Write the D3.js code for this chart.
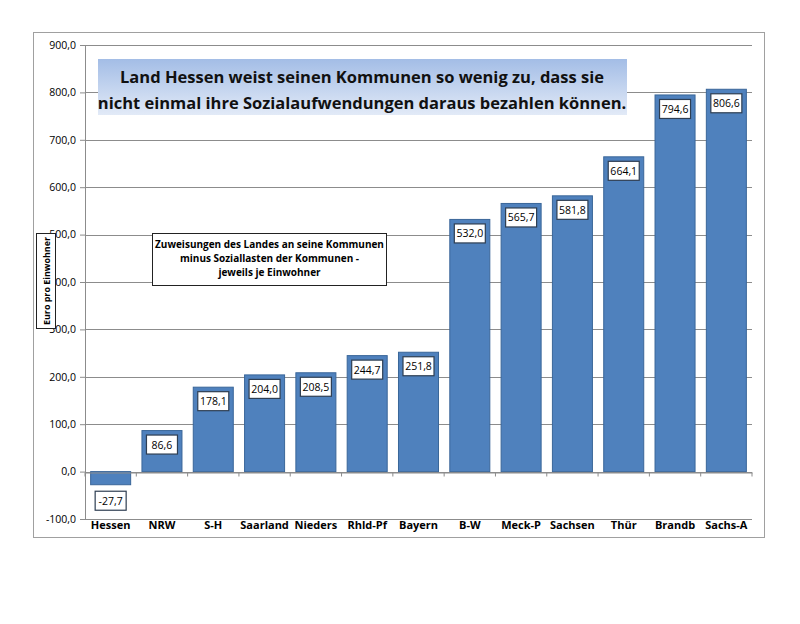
<!DOCTYPE html>
<html>
<head>
<meta charset="utf-8">
<script src="https://cdn.jsdelivr.net/npm/d3@7"></script>
<style>
  body { margin: 0; background: #fff; }
  svg text { font-family: 'Open Sans', 'Noto Sans', sans-serif; }
</style>
</head>
<body>
<svg class="chart"></svg>
<script>
var laender = ['Hessen', 'NRW', 'S-H', 'Saarland', 'Nieders', 'Rhld-Pf', 'Bayern', 'B-W', 'Meck-P', 'Sachsen', 'Thür', 'Brandb', 'Sachs-A'];
var werte = [-27.7, 86.6, 178.1, 204.0, 208.5, 244.7, 251.8, 532.0, 565.7, 581.8, 664.1, 794.6, 806.6];
var yTicks = [-100, 0, 100, 200, 300, 400, 500, 600, 700, 800, 900];
var titelZeilen = ['Land Hessen weist seinen Kommunen so wenig zu, dass sie', 'nicht einmal ihre Sozialaufwendungen daraus bezahlen können.'];
var notizZeilen = ['Zuweisungen des Landes an seine Kommunen', 'minus Soziallasten der Kommunen -', 'jeweils je Einwohner'];
var yTitel = 'Euro pro Einwohner';

var margin = { top: 45, right: 48, bottom: 105, left: 85 };
var width = 800 - margin.left - margin.right;
var height = 624 - margin.top - margin.bottom;
var fmt = d => d.toFixed(1).replace('.', ',');

var svg = d3.select('.chart').attr('width', 800).attr('height', 624);

// Rahmen um das Diagramm
svg.append('rect')
  .attr('x', 33.5).attr('y', 32.5).attr('width', 731).attr('height', 505)
  .attr('fill', '#fff').attr('stroke', '#a0a0a0');

var chart = svg.append('g')
  .attr('transform', 'translate(' + margin.left + ',' + margin.top + ')');

var x = d3.scaleBand().domain(laender).range([0, width]).paddingInner(0.22).paddingOuter(0.11);
var y = d3.scaleLinear().domain([-100, 900]).range([height, 0]);

// Gitterlinien
chart.append('g')
  .selectAll('line')
  .data(yTicks)
  .enter().append('line')
  .attr('x1', 0).attr('x2', width)
  .attr('y1', d => Math.round(y(d)) + 0.5).attr('y2', d => Math.round(y(d)) + 0.5)
  .attr('stroke', '#8c8c8c').attr('stroke-width', 1);

// Y-Achse
var yAxis = d3.axisLeft(y).tickValues(yTicks).tickFormat(fmt).tickSize(5).tickPadding(4);
var yg = chart.append('g').attr('class', 'y axis').call(yAxis);
yg.select('.domain').attr('stroke', '#8c8c8c');
yg.selectAll('.tick line').attr('stroke', '#8c8c8c');
yg.selectAll('.tick text').attr('font-size', 10.5).attr('fill', '#000');

// Balken
chart.selectAll('.bar')
  .data(werte)
  .enter().append('rect')
  .attr('class', 'bar')
  .attr('x', (d, i) => x(laender[i]))
  .attr('y', d => y(Math.max(0, d)))
  .attr('width', x.bandwidth())
  .attr('height', d => Math.abs(y(d) - y(0)))
  .attr('fill', '#4f81bd')
  .attr('stroke', '#3a6699').attr('stroke-width', 1);

// X-Achse bei 0
var xAxis = d3.axisBottom(x).tickSize(0).tickFormat('');
var xg = chart.append('g').attr('class', 'x axis')
  .attr('transform', 'translate(0,' + (Math.round(y(0)) + 0.5) + ')')
  .call(xAxis);
xg.select('.domain').attr('stroke', '#8c8c8c');
var grenzen = laender.map(d => x(d) - x.step() * x.paddingInner() / 2).concat([width]);
xg.selectAll('.sep')
  .data(grenzen)
  .enter().append('line')
  .attr('x1', d => d).attr('x2', d => d)
  .attr('y1', 0).attr('y2', 4)
  .attr('stroke', '#8c8c8c');

// Kategorienbeschriftung unten
chart.append('g')
  .selectAll('text')
  .data(laender)
  .enter().append('text')
  .attr('x', d => x(d) + x.bandwidth() / 2)
  .attr('y', height + 10)
  .attr('text-anchor', 'middle')
  .attr('font-size', 11).attr('font-weight', 'bold')
  .text(d => d);

// Datenbeschriftungen
var lab = chart.selectAll('.lab')
  .data(werte)
  .enter().append('g')
  .attr('class', 'lab')
  .attr('transform', (d, i) => {
    var cx = x(laender[i]) + x.bandwidth() / 2;
    var top = d >= 0 ? y(d) + 4 : y(d) + 6;
    return 'translate(' + cx + ',' + top + ')';
  });
lab.append('rect')
  .attr('x', -15.5).attr('y', 0.5).attr('width', 31).attr('height', 19)
  .attr('fill', '#fff').attr('stroke', '#2e3e52').attr('stroke-width', 1.2);
lab.append('text')
  .attr('y', 14).attr('text-anchor', 'middle')
  .attr('font-size', 10.5)
  .text(d => fmt(d));

// Titelkasten mit Verlauf
var defs = svg.append('defs');
var grad = defs.append('linearGradient').attr('id', 'tg').attr('x1', 0).attr('y1', 0).attr('x2', 0).attr('y2', 1);
grad.append('stop').attr('offset', '0%').attr('stop-color', '#a3bde6');
grad.append('stop').attr('offset', '100%').attr('stop-color', '#e2eaf7');
svg.append('rect')
  .attr('x', 98).attr('y', 59).attr('width', 529).attr('height', 56)
  .attr('fill', 'url(#tg)');
svg.append('g')
  .selectAll('text')
  .data(titelZeilen)
  .enter().append('text')
  .attr('x', 362).attr('y', (d, i) => 83 + i * 26)
  .attr('text-anchor', 'middle')
  .attr('font-size', 16.5).attr('font-weight', 'bold')
  .attr('fill', '#111')
  .text(d => d);

// Notizkasten
svg.append('rect')
  .attr('x', 152.5).attr('y', 233.5).attr('width', 234).attr('height', 52)
  .attr('fill', '#fff').attr('stroke', '#222');
svg.append('g')
  .selectAll('text')
  .data(notizZeilen)
  .enter().append('text')
  .attr('x', 269.5).attr('y', (d, i) => 248 + i * 14)
  .attr('text-anchor', 'middle')
  .attr('font-size', 10).attr('font-weight', 'bold')
  .text(d => d);

// Y-Achsentitel
svg.append('rect')
  .attr('x', 36.5).attr('y', 233.5).attr('width', 19).attr('height', 95)
  .attr('fill', '#fff').attr('stroke', '#222');
svg.append('text')
  .attr('transform', 'translate(49.5,281) rotate(-90)')
  .attr('text-anchor', 'middle')
  .attr('font-size', 9.5).attr('font-weight', 'bold')
  .attr('textLength', 88).attr('lengthAdjust', 'spacingAndGlyphs')
  .text(yTitel);
</script>
</body>
</html>
